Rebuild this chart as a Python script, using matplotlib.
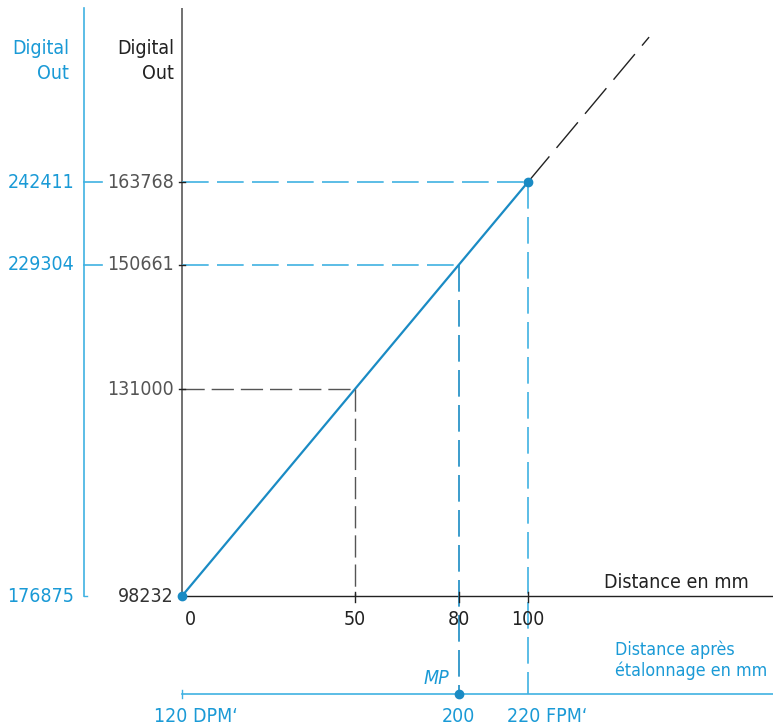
import matplotlib.pyplot as plt

# values
dist_mm = [0, 50, 80, 100]
digital_out = [98232, 131000, 150661, 163768]
cal_digital = [176875, 229304, 242411]        # left (blue) axis, same rows as 0 / 80 / 100
cal_dist = [120, 200, 220]                    # bottom (blue) axis, same columns as 0 / 80 / 100
cal_dist_labels = ["120 DPM\u2018", "200", "220 FPM\u2018"]
ext_dist = 135                                # end of the dashed extrapolation

BLUE = "#1a8bc4"
LBLUE = "#3fb1e2"
TBLUE = "#1a9ad6"
GRAY = "#555555"
DARK = "#222222"

plt.rcParams["font.family"] = ["DejaVu Sans"]
plt.rcParams["font.stretch"] = "condensed"
plt.rcParams["font.size"] = 14

W, H = 773, 726
fig = plt.figure(figsize=(W / 100, H / 100), dpi=100)
ax = fig.add_axes([0, 0, 1, 1])
ax.set_axis_off()

# pixel layout: x=0 at px 182, x=100 at px 528; y=98232 at py 596, y=163768 at py 182
X0, XS = 182, (528 - 182) / 100
Y0, YS = 596, (596 - 182) / (163768 - 98232)


def xd(px):
    return (px - X0) / XS


def yd(py):
    return digital_out[0] + (Y0 - py) / YS


ax.set_xlim(xd(0), xd(W))
ax.set_ylim(yd(H), yd(0))

slope = (digital_out[-1] - digital_out[0]) / (dist_mm[-1] - dist_mm[0])
ybase = digital_out[0]
ybot = yd(694)      # level of the calibrated distance axis
xleft = xd(84)      # calibrated digital axis

# main axes
ax.plot([0, 0], [ybase, yd(8)], color="#666666", lw=1.3, solid_capstyle="butt")
ax.plot([0, xd(W)], [ybase, ybase], color=DARK, lw=1.0)

# calibrated axes
ax.plot([xleft, xleft], [ybase, yd(8)], color=LBLUE, lw=1.2)
ax.plot([xleft, xd(87)], [ybase, ybase], color=LBLUE, lw=1.0)
ax.plot([0, xd(W)], [ybot, ybot], color=LBLUE, lw=1.2)
ax.plot([0, 0], [yd(690), yd(698)], color=LBLUE, lw=1.0)

# characteristic line + extrapolation
ax.plot([dist_mm[0], dist_mm[-1]], [digital_out[0], digital_out[-1]], color=BLUE, lw=1.6)
ax.plot([dist_mm[-1], ext_dist], [digital_out[-1], digital_out[0] + slope * ext_dist],
        color=DARK, lw=1.0, dashes=(24, 8))

# guide lines
dash = (16, 5)
x50, y50 = dist_mm[1], digital_out[1]
ax.plot([0, x50], [y50, y50], color=GRAY, lw=1.0, dashes=dash)
ax.plot([x50, x50], [y50, ybase], color=GRAY, lw=1.0, dashes=dash)
for xv, yv, c in [(dist_mm[2], digital_out[2], BLUE), (dist_mm[3], digital_out[3], LBLUE)]:
    ax.plot([0, xv], [yv, yv], color=LBLUE, lw=1.2, dashes=dash)
    ax.plot([xv, xv], [yv, ybot], color=c, lw=1.2, dashes=dash)
    ax.plot([xleft, xd(102)], [yv, yv], color=LBLUE, lw=1.2)

# ticks on the main axes
for yv in digital_out[1:]:
    ax.plot([xd(179), xd(185)], [yv, yv], color=DARK, lw=1.0)
for xv in dist_mm[1:]:
    ax.plot([xv, xv], [yd(592), yd(602)], color=DARK, lw=1.0)

# points
ax.plot([dist_mm[0], dist_mm[-1]], [digital_out[0], digital_out[-1]], "o", color=BLUE, ms=6)
ax.plot([dist_mm[2]], [ybot], "o", color=BLUE, ms=6)

# y labels
for yv in digital_out:
    ax.text(xd(174), yv, str(yv), color="#333333" if yv == digital_out[0] else "#555555",
            ha="right", va="center")
for yv, cv in zip([digital_out[0], digital_out[2], digital_out[3]], cal_digital):
    ax.text(xd(74), yv, str(cv), color=TBLUE, ha="right", va="center")

# x labels
for xv in dist_mm:
    ax.text(xv + (2.3 if xv == 0 else 0), yd(619), str(xv), color=DARK, ha="center", va="center")
cal_x = [0, dist_mm[2], dist_mm[3]]
for xv, lab, ha, dx in zip(cal_x, cal_dist_labels, ["center", "center", "left"], [4, 0, -6]):
    ax.text(xv + dx, yd(716), lab, color=TBLUE, ha=ha, va="center")

# axis titles
ax.text(xd(174), yd(61), "Digital\nOut", color=DARK, ha="right", va="center", linespacing=1.35)
ax.text(xd(69), yd(61), "Digital\nOut", color=TBLUE, ha="right", va="center", linespacing=1.35)
ax.text(xd(749), yd(582), "Distance en mm", color=DARK, ha="right", va="center")
ax.text(xd(615), yd(660), "Distance apr\u00e8s\n\u00e9talonnage en mm", color=TBLUE,
        ha="left", va="center", linespacing=1.2, fontsize=12.8)
ax.text(xd(436), yd(678), "MP", color=TBLUE, ha="center", va="center", style="italic")

fig.savefig("out.png", dpi=100)
